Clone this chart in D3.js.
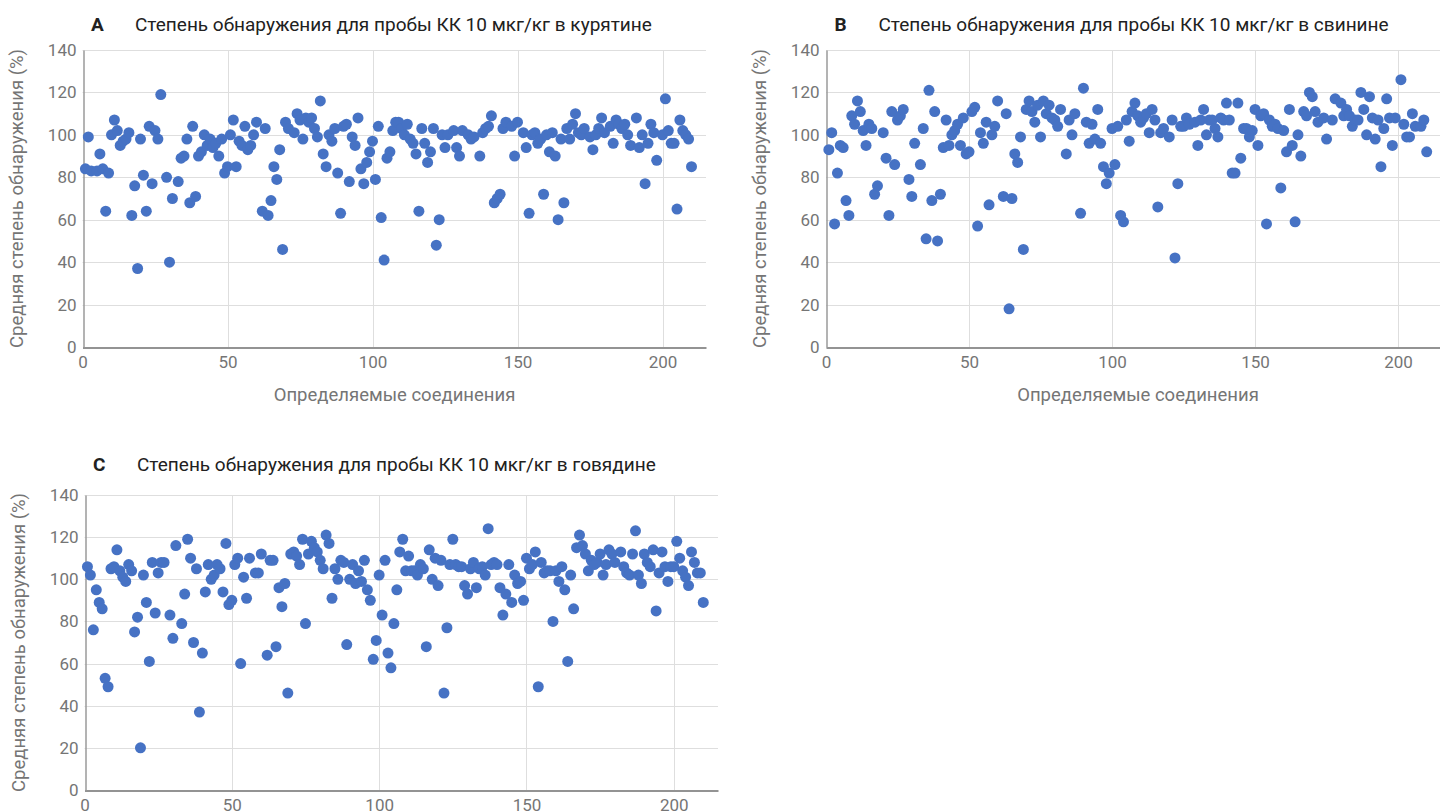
<!DOCTYPE html>
<html>
<head>
<meta charset="utf-8">
<script src="https://cdn.jsdelivr.net/npm/d3@7"></script>
<style>
  body { margin: 0; background: #fff; }
  svg { display: block; font-family: Roboto, sans-serif; }
  .tick text { fill: #757575; font-size: 17px; }
  .axis-title { fill: #757575; font-size: 18.5px; }
  .panel-title { fill: #212121; font-size: 19px; }
</style>
</head>
<body>
<svg width="1440" height="812"></svg>
<script>
// compound index, mean recovery (%)
var chicken = [[1,84],[2,99],[3,83],[5,83],[6,91],[7,84],[8,64],[9,82],[10,100],[11,107],[12,102],[13,95],[14,97],[15,98],[16,101],[17,62],[18,76],[19,37],[20,98],[21,81],[22,64],[23,104],[24,77],[25,102],[26,98],[27,119],[29,80],[30,40],[31,70],[33,78],[34,89],[35,90],[36,98],[37,68],[38,104],[39,71],[40,90],[41,92],[42,100],[43,95],[44,98],[45,94],[46,96],[47,90],[48,98],[49,82],[50,85],[51,100],[52,107],[53,85],[54,97],[55,95],[56,104],[57,93],[58,95],[59,100],[60,106],[62,64],[63,103],[64,62],[65,69],[66,85],[67,79],[68,93],[69,46],[70,106],[71,103],[73,101],[74,110],[75,107],[76,98],[77,108],[78,106],[79,108],[80,103],[81,99],[82,116],[83,91],[84,85],[85,100],[86,97],[87,103],[88,82],[89,63],[90,104],[91,105],[92,78],[93,99],[94,95],[95,108],[96,84],[97,77],[98,87],[99,92],[100,97],[101,79],[102,104],[103,61],[104,41],[105,89],[106,92],[107,102],[108,106],[109,106],[110,103],[111,100],[112,105],[113,98],[114,96],[115,91],[116,64],[117,103],[118,96],[119,87],[120,92],[121,103],[122,48],[123,60],[124,100],[125,94],[126,100],[128,102],[129,94],[130,90],[131,102],[133,100],[134,98],[135,99],[137,90],[138,101],[139,103],[140,104],[141,109],[142,68],[143,70],[144,72],[145,103],[146,106],[148,104],[149,90],[150,106],[152,101],[153,94],[154,63],[155,100],[156,101],[157,96],[158,98],[159,72],[160,100],[161,92],[162,101],[163,90],[164,60],[165,98],[166,68],[167,103],[168,98],[169,105],[170,110],[171,101],[172,100],[173,103],[175,99],[176,93],[177,100],[178,103],[179,108],[180,101],[182,104],[183,96],[184,107],[185,105],[186,103],[187,105],[188,100],[189,95],[191,108],[192,94],[193,100],[194,77],[195,96],[196,105],[197,101],[198,88],[200,100],[201,117],[202,102],[203,96],[204,96],[205,65],[206,107],[207,102],[208,100],[209,98],[210,85]];

var pork = [[1,93],[2,101],[3,58],[4,82],[5,95],[6,94],[7,69],[8,62],[9,109],[10,105],[11,116],[12,111],[13,102],[14,95],[15,105],[16,103],[17,72],[18,76],[20,101],[21,89],[22,62],[23,111],[24,86],[25,107],[26,109],[27,112],[29,79],[30,71],[31,96],[33,86],[34,103],[35,51],[36,121],[37,69],[38,111],[39,50],[40,72],[41,94],[42,107],[43,95],[44,100],[45,102],[46,105],[47,95],[48,108],[49,91],[50,92],[51,111],[52,113],[53,57],[54,101],[55,96],[56,106],[57,67],[58,100],[59,104],[60,116],[62,71],[63,110],[64,18],[65,70],[66,91],[67,87],[68,99],[69,46],[70,112],[71,116],[72,111],[73,106],[74,114],[75,99],[76,116],[77,110],[78,114],[79,108],[80,107],[81,104],[82,112],[84,91],[85,107],[86,100],[87,110],[89,63],[90,122],[91,106],[92,96],[93,105],[94,98],[95,112],[96,96],[97,85],[98,77],[99,82],[100,103],[101,86],[102,104],[103,62],[104,59],[105,107],[106,97],[107,111],[108,115],[109,109],[110,106],[111,108],[112,110],[113,101],[114,112],[115,107],[116,66],[117,101],[118,103],[120,99],[121,107],[122,42],[123,77],[124,104],[125,104],[126,108],[127,105],[129,106],[130,95],[131,107],[132,112],[133,100],[134,107],[135,107],[136,103],[137,99],[138,108],[139,107],[140,115],[141,107],[142,82],[143,82],[144,115],[145,89],[146,103],[147,103],[148,99],[149,102],[150,112],[151,95],[152,109],[153,110],[154,58],[155,107],[156,104],[157,105],[158,103],[159,75],[160,102],[161,92],[162,112],[163,95],[164,59],[165,100],[166,90],[167,111],[168,109],[169,120],[170,118],[171,111],[172,106],[174,108],[175,98],[177,107],[178,117],[180,115],[181,109],[182,112],[183,109],[184,104],[185,107],[186,107],[187,120],[188,112],[189,100],[190,118],[191,108],[192,98],[193,107],[194,85],[195,103],[196,117],[197,108],[198,95],[199,108],[201,126],[202,105],[203,99],[204,99],[205,110],[206,104],[208,104],[209,107],[210,92]];

var beef = [[1,106],[2,102],[3,76],[4,95],[5,89],[6,86],[7,53],[8,49],[9,105],[10,106],[11,114],[12,104],[13,101],[14,99],[15,107],[16,104],[17,75],[18,82],[19,20],[20,102],[21,89],[22,61],[23,108],[24,84],[25,103],[26,108],[27,108],[29,83],[30,72],[31,116],[33,79],[34,93],[35,119],[36,110],[37,70],[38,105],[39,37],[40,65],[41,94],[42,107],[43,100],[44,102],[45,107],[46,105],[47,94],[48,117],[49,88],[50,90],[51,107],[52,110],[53,60],[54,101],[55,91],[56,110],[58,103],[59,103],[60,112],[62,64],[63,109],[64,109],[65,68],[66,96],[67,87],[68,98],[69,46],[70,112],[71,113],[72,111],[73,107],[74,119],[75,79],[76,112],[77,118],[78,115],[79,113],[80,109],[81,105],[82,121],[83,117],[84,91],[85,105],[86,100],[87,109],[88,108],[89,69],[90,100],[91,107],[92,98],[93,104],[94,99],[95,109],[96,95],[97,90],[98,62],[99,71],[100,102],[101,83],[102,109],[103,65],[104,58],[105,79],[106,95],[107,113],[108,119],[109,104],[110,111],[111,104],[112,104],[113,102],[114,107],[115,105],[116,68],[117,114],[118,100],[119,110],[120,97],[121,109],[122,46],[123,77],[124,107],[125,119],[126,107],[127,106],[128,106],[129,97],[130,93],[131,105],[132,108],[133,96],[134,105],[135,106],[136,102],[137,124],[138,107],[139,108],[140,107],[141,96],[142,83],[143,93],[144,107],[145,89],[146,102],[147,98],[148,99],[149,90],[150,110],[151,105],[152,107],[153,113],[154,49],[155,108],[156,103],[157,104],[158,104],[159,80],[160,104],[161,99],[162,106],[163,95],[164,61],[165,102],[166,86],[167,115],[168,121],[169,116],[170,112],[171,104],[172,109],[173,107],[174,108],[175,112],[176,102],[177,107],[178,114],[179,112],[180,108],[182,113],[183,106],[184,103],[185,102],[186,112],[187,123],[188,102],[189,98],[190,112],[191,108],[192,106],[193,114],[194,85],[195,103],[196,113],[197,106],[198,99],[199,106],[200,106],[201,118],[202,110],[203,104],[204,101],[205,97],[206,113],[207,108],[208,103],[209,103],[210,89]];

var xTicks = [0, 50, 100, 150, 200];
var yTicks = [0, 20, 40, 60, 80, 100, 120, 140];

var titles = [
  "Степень обнаружения для пробы КК 10 мкг/кг в курятине",
  "Степень обнаружения для пробы КК 10 мкг/кг в свинине",
  "Степень обнаружения для пробы КК 10 мкг/кг в говядине"
];
var letters = ["A", "B", "C"];
var xTitle = "Определяемые соединения";
var yTitle = "Средняя степень обнаружения (%)";

var dotcolor = "#4672c4";

var svg = d3.select("svg");

var panels = [
  {data: chicken, left: 82.5, right: 706, top: 50, bottom: 347, titleY: 31, title: titles[0], letter: letters[0], xLabel: true},
  {data: pork, left: 826, right: 1441, top: 50, bottom: 347, titleY: 31, title: titles[1], letter: letters[1], xLabel: true},
  {data: beef, left: 84.5, right: 718, top: 495, bottom: 790, titleY: 471, title: titles[2], letter: letters[2], xLabel: false}
];

var drawPanel = function (p) {
  var x = d3.scaleLinear().domain([0, 215]).range([p.left, p.right]);
  var y = d3.scaleLinear().domain([0, 140]).range([p.bottom, p.top]);
  var g = svg.append("g");

  // grid
  g.selectAll(".hgrid").data(yTicks.slice(1)).enter().append("line")
    .attr("x1", p.left).attr("x2", p.right)
    .attr("y1", function(d){ return Math.round(y(d)) + 0.5; })
    .attr("y2", function(d){ return Math.round(y(d)) + 0.5; })
    .attr("stroke", "#dedede");
  g.selectAll(".vgrid").data(xTicks.slice(1)).enter().append("line")
    .attr("y1", p.top).attr("y2", p.bottom)
    .attr("x1", function(d){ return Math.round(x(d)) + 0.5; })
    .attr("x2", function(d){ return Math.round(x(d)) + 0.5; })
    .attr("stroke", "#dedede");

  var xAxis = g.append("g")
    .attr("transform", "translate(0," + (Math.round(p.bottom) + 0.5) + ")")
    .call(d3.axisBottom(x).tickValues(xTicks).tickSize(0).tickPadding(8));
  xAxis.select(".domain").attr("stroke", "#6f6f6f").attr("stroke-width", 1.5);

  var yAxis = g.append("g")
    .attr("transform", "translate(" + (Math.round(p.left) + 0.5) + ",0)")
    .call(d3.axisLeft(y).tickValues(yTicks).tickSize(0).tickPadding(7));
  yAxis.select(".domain").attr("stroke", "#9a9a9a").attr("stroke-width", 1.5);

  g.selectAll(".tick text").style("font-family", "Roboto");

  g.selectAll(".dot").data(p.data).enter().append("circle")
    .attr("class", "dot")
    .attr("cx", function(d){ return x(d[0]); })
    .attr("cy", function(d){ return y(d[1]); })
    .attr("r", 5.5)
    .style("fill", dotcolor);

  g.append("text").attr("class", "panel-title")
    .attr("x", p.left + 8.5).attr("y", p.titleY)
    .style("font-weight", "bold")
    .text(p.letter);
  g.append("text").attr("class", "panel-title")
    .attr("x", p.left + 52.5).attr("y", p.titleY)
    .text(p.title);

  g.append("text").attr("class", "axis-title")
    .attr("transform", "translate(" + (p.left - 66) + "," + ((p.top + p.bottom) / 2) + ") rotate(-90)")
    .attr("text-anchor", "middle")
    .attr("dy", "0.35em")
    .text(yTitle);

  if (p.xLabel) {
    g.append("text").attr("class", "axis-title")
      .attr("x", p.left + 312).attr("y", p.bottom + 54)
      .attr("text-anchor", "middle")
      .text(xTitle);
  }
};

panels.forEach(drawPanel);
</script>
</body>
</html>
